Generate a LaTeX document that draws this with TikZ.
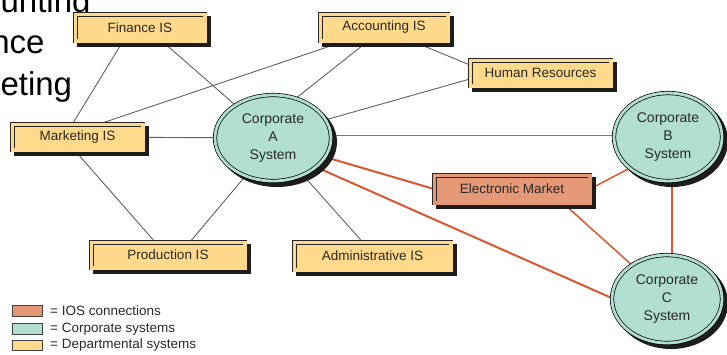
\documentclass[tikz,border=0pt]{standalone}
\usepackage{fontspec}
\setmainfont{Liberation Sans}
\usetikzlibrary{shapes.geometric,backgrounds}
\definecolor{deptfill}{RGB}{255,217,140}
\definecolor{iosfill}{RGB}{228,152,118}
\definecolor{corpfill}{RGB}{178,222,208}
\definecolor{ioslink}{RGB}{214,88,48}
\definecolor{deptlink}{RGB}{95,95,95}
\definecolor{txt}{RGB}{40,40,40}
\definecolor{shadowcol}{RGB}{30,28,28}
\begin{document}
\begin{tikzpicture}[x=1pt,y=-1pt,
  boxbase/.style={rectangle, draw=black!85, line width=0.6pt, double distance=3.4pt, inner sep=0pt,
     text=txt, font=\fontsize{13.5}{16}\selectfont},
  deptbox/.style={boxbase, fill=deptfill, double=deptfill},
  iosbox/.style={boxbase, fill=iosfill, double=iosfill},
  corp/.style={ellipse, draw=black, line width=0.7pt, double=corpfill, double distance=2.8pt,
     fill=corpfill, inner sep=0pt, align=center, text=txt, font=\fontsize{14}{18}\selectfont},
  deptline/.style={draw=deptlink, line width=0.9pt},
  iosthin/.style={draw=ioslink, line width=1pt},
  iosmid/.style={draw=ioslink, line width=1.5pt},
  iosthick/.style={draw=ioslink, line width=2pt},
  shadowfill/.style={fill=shadowcol},
  legbox/.style={rectangle, draw=black!75, line width=0.8pt, minimum width=30pt, minimum height=10.5pt, inner sep=0pt},
  legtext/.style={anchor=west, text=txt, font=\fontsize{13.5}{16}\selectfont, inner sep=0pt},
  bigtext/.style={anchor=base west, inner sep=0pt, font=\fontsize{33}{40}\selectfont}
]
\useasboundingbox (0,0) rectangle (727,354);
\clip (0,0) rectangle (727,354);

% background slide text (cropped)
\node[bigtext] (bt1) at (-73,12.5) {Accounting};
\node[bigtext] (bt2) at (-73,53.5) {Finance};
\node[bigtext] (bt3) at (-73,95) {Marketing};

% departmental systems
\node[deptbox, minimum width=129.6pt, minimum height=26.6pt] (fin) at (140,27.5) {Finance IS};
\node[deptbox, minimum width=127.6pt, minimum height=26.6pt] (acc) at (384,27.5) {Accounting IS};
\node[deptbox, minimum width=140.6pt, minimum height=25.6pt] (hr) at (540.5,73) {Human Resources};
\node[deptbox, minimum width=130.6pt, minimum height=25.6pt] (mkt) at (77.5,137) {Marketing IS};
\node[deptbox, minimum width=153.6pt, minimum height=25.6pt] (prod) at (168,255) {Production IS};
\node[deptbox, minimum width=156.6pt, minimum height=27.6pt] (adm) at (372.5,256) {Administrative IS};

% IOS
\node[iosbox, minimum width=155.6pt, minimum height=27.6pt] (em) at (512,189) {Electronic Market};

% corporate systems
\node[corp, minimum width=116pt, minimum height=86pt] (A) at (273,138) {Corporate\\A\\System};
\node[corp, minimum width=108pt, minimum height=88pt] (B) at (668,137) {Corporate\\B\\System};
\node[corp, minimum width=110pt, minimum height=88pt] (C) at (667,299) {Corporate\\C\\System};

\begin{pgfonlayer}{background}
\draw[deptline] ([shift={(-17,0)}]fin.south) -- ([shift={(-5,0)}]mkt.north);
\draw[deptline] ([shift={(22,0)}]fin.south) -- (A);
\draw[deptline] ([shift={(-39,0)}]acc.south) -- ([shift={(22,0)}]mkt.north);
\draw[deptline] ([shift={(-16,0)}]acc.south) -- (A.60);
\draw[deptline] ([shift={(28,0)}]acc.south) -- ([shift={(0,-8)}]hr.west);
\draw[deptline] ([shift={(0,6)}]hr.west) -- (A.19);
\draw[deptline] (mkt) -- (A);
\draw[deptline] ([shift={(-3,0)}]mkt.south) -- ([shift={(-13,0)}]prod.north);
\draw[deptline] ([shift={(22,0)}]prod.north) -- (A.234);
\draw[deptline] (A.-51) -- ([shift={(-10,0)}]adm.north);

\draw[iosthin] ([shift={(-3,-3)}]A.east) -- ([shift={(3,-2)}]B.west);
\draw[iosthick] (A.-20) -- (em.west);
\draw[iosthick] (A.-34) -- ([shift={(0,-1)}]C.west);
\draw[iosmid] (em.east) -- (B.219);
\draw[iosmid] ([shift={(51,0)}]em.south) -- (C.136);
\draw[iosmid] ([shift={(4,0)}]B.south) -- ([shift={(5,0)}]C.north);

% shadows
\foreach \n in {fin,acc,hr,mkt,prod,adm,em}
  \fill[shadowfill] ([shift={(1.8,6)}]\n.south west) rectangle ([shift={(6.2,1.8)}]\n.north east);
\fill[shadowfill] ([shift={(4,4)}]A.center) ellipse [x radius=60, y radius=45];
\fill[shadowfill] ([shift={(4,4)}]B.center) ellipse [x radius=56, y radius=46];
\fill[shadowfill] ([shift={(4,4)}]C.center) ellipse [x radius=57, y radius=46];
\end{pgfonlayer}

% legend
\node[legbox, fill=iosfill] (l1) at (27.5,311) {};
\node[legtext] (lt1) at (50,311) {= IOS connections};
\node[legbox, fill=corpfill] (l2) at (27.5,329) {};
\node[legtext] (lt2) at (50,329) {= Corporate systems};
\node[legbox, fill=deptfill] (l3) at (27.5,345.5) {};
\node[legtext] (lt3) at (50,345.5) {= Departmental systems};
\end{tikzpicture}
\end{document}
